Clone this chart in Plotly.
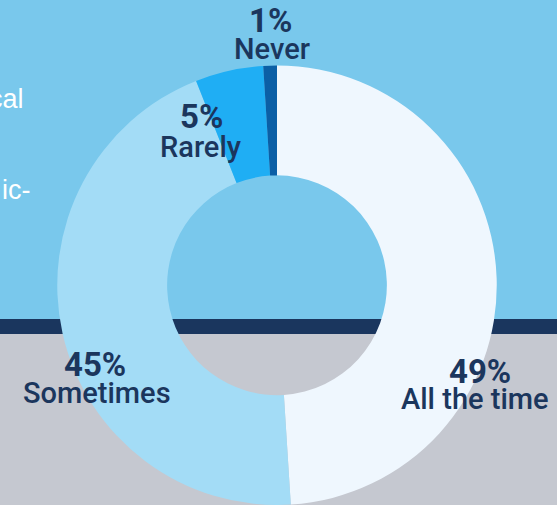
import plotly.graph_objects as go

# Data
labels = ["All the time", "Sometimes", "Rarely", "Never"]
values = [49, 45, 5, 1]
colors = ["#eff7fe", "#a3dcf6", "#1faef4", "#0b5fa6"]

W, H = 557, 505
NAVY = "#1b365d"

def px(x):
    return x / W

def py(y):
    return 1 - y / H

# pie geometry (pixels)
cx, cy, r = 277, 286, 220.5

fig = go.Figure()
fig.add_trace(go.Pie(
    labels=labels, values=values, hole=0.5, sort=False,
    direction="clockwise", rotation=0,
    marker=dict(colors=colors, line=dict(width=0)),
    textinfo="none", hoverinfo="label+percent", showlegend=False,
    domain=dict(x=[px(cx - r), px(cx + r)], y=[max(0, py(cy + r)), py(cy - r)]),
))

shapes = [
    dict(type="rect", xref="paper", yref="paper", x0=0, x1=1, y0=py(319), y1=1,
         fillcolor="#79c8ec", line=dict(width=0), layer="below"),
    dict(type="rect", xref="paper", yref="paper", x0=0, x1=1, y0=py(334), y1=py(319),
         fillcolor="#1a365e", line=dict(width=0), layer="below"),
    dict(type="rect", xref="paper", yref="paper", x0=0, x1=1, y0=0, y1=py(334),
         fillcolor="#c5c8d0", line=dict(width=0), layer="below"),
]

# label positions (pixels): percent centre, name centre
pct_pos = [(480, 371), (95, 364), (201, 117), (270, 20)]
name_pos = [(475, 399), (97, 393), (201, 147), (272, 49)]
FONT = "Roboto, Liberation Sans, Arial, sans-serif"
total = sum(values)
annotations = []
for lab, val, (x1, y1), (x2, y2) in zip(labels, values, pct_pos, name_pos):
    annotations.append(dict(
        xref="paper", yref="paper", x=px(x1), y=py(y1), xanchor="center", yanchor="middle",
        showarrow=False, text=f"{round(100 * val / total)}%",
        font=dict(family=FONT, size=33, color=NAVY, weight=700),
    ))
    annotations.append(dict(
        xref="paper", yref="paper", x=px(x2), y=py(y2), xanchor="center", yanchor="middle",
        showarrow=False, text=lab,
        font=dict(family=FONT, size=29, color=NAVY, weight=500),
    ))

side_text = [("cal", 26, 99), ("ic-", 33, 190)]
for t, x, y in side_text:
    annotations.append(dict(
        xref="paper", yref="paper", x=px(x), y=py(y), xanchor="right", yanchor="middle",
        showarrow=False, text=t,
        font=dict(family="Liberation Sans, Arial, sans-serif", size=27, color="white"),
    ))

fig.update_layout(
    width=W, height=H, margin=dict(l=0, r=0, t=0, b=0),
    paper_bgcolor="#c5c8d0", plot_bgcolor="rgba(0,0,0,0)",
    shapes=shapes, annotations=annotations,
)

fig.write_html("out.html")
